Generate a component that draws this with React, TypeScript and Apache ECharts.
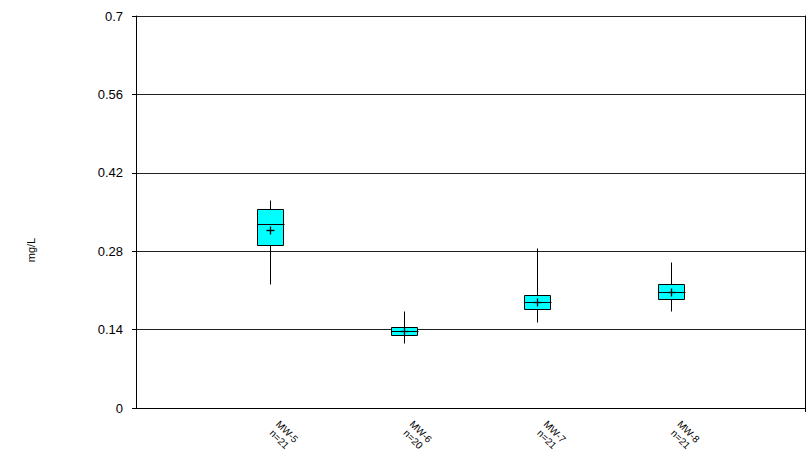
import React, { useEffect, useRef } from "react";
import * as echarts from "echarts";

const categories = ["MW-5", "MW-6", "MW-7", "MW-8"];
const counts = [21, 20, 21, 21];
const whiskerLow = [0.221, 0.116, 0.154, 0.173];
const q1 = [0.291, 0.13, 0.176, 0.194];
const median = [0.329, 0.1375, 0.189, 0.208];
const q3 = [0.355, 0.1446, 0.201, 0.221];
const whiskerHigh = [0.371, 0.173, 0.286, 0.261];
const means = [0.318, 0.138, 0.19, 0.208];
const yTicks = [0, 0.14, 0.28, 0.42, 0.56, 0.7];

const FONT = "Liberation Sans";

export default function App() {
  const ref = useRef<HTMLDivElement>(null);
  useEffect(() => {
    if (!ref.current) return;
    const chart = echarts.init(ref.current, null, { renderer: "svg" });
    const xLabels = ["", ...categories.map((c, i) => `${c}\nn=${counts[i]}`), ""];
    const data = categories.map((c, i) => [
      i + 1,
      whiskerLow[i],
      q1[i],
      median[i],
      q3[i],
      whiskerHigh[i],
      means[i],
    ]);
    const px = (v: number) => Math.round(v) + 0.5;
    const option: any = {
      animation: false,
      backgroundColor: "#fff",
      grid: {
        left: 136,
        right: 4,
        top: 16,
        bottom: 60,
        containLabel: false,
        outerBoundsMode: "none",
      },
      xAxis: {
        type: "category",
        data: xLabels,
        boundaryGap: false,
        axisLine: { show: true, lineStyle: { color: "#000", width: 1 } },
        axisTick: {
          show: true,
          length: 4,
          interval: (idx: number) => idx === xLabels.length - 1,
          lineStyle: { color: "#000" },
        },
        axisLabel: {
          interval: (idx: number, val: string) => val !== "",
          rotate: -45,
          align: "center",
          verticalAlign: "middle",
          padding: [0, 0, 0, 38],
          margin: 14,
          fontFamily: FONT,
          fontSize: 10,
          lineHeight: 11,
          color: "#000",
        },
        splitLine: { show: false },
      },
      yAxis: [
        {
          type: "value",
          min: 0,
          max: 0.7,
          interval: 0.14,
          name: "mg/L",
          nameLocation: "middle",
          nameRotate: 90,
          nameGap: 100,
          nameTextStyle: {
            fontFamily: FONT,
            fontSize: 11,
            color: "#000",
            padding: [0, 76, 0, 0],
          },
          axisLine: { show: true, lineStyle: { color: "#000", width: 1 } },
          axisTick: { show: true, length: 4, inside: false, lineStyle: { color: "#000" } },
          axisLabel: {
            margin: 13,
            fontFamily: FONT,
            fontSize: 13,
            color: "#000",
            formatter: (v: number) => {
              const t = yTicks.find((y) => Math.abs(y - v) < 1e-6);
              return String(t !== undefined ? t : v);
            },
          },
          splitLine: { show: true, lineStyle: { color: "#222", width: 1 } },
        },
        {
          type: "value",
          position: "right",
          min: 0,
          max: 0.7,
          interval: 0.14,
          axisLine: { show: true, lineStyle: { color: "#000", width: 1 } },
          axisTick: { show: false },
          axisLabel: { show: false },
          splitLine: { show: false },
        },
      ],
      series: [
        {
          type: "custom",
          xAxisIndex: 0,
          yAxisIndex: 0,
          encode: { x: 0, y: [1, 2, 3, 4, 5, 6] },
          data,
          renderItem: (params: any, api: any) => {
            const x = api.value(0);
            const band = api.size([1, 0])[0];
            const w = Math.round(band * 0.195);
            const cx = api.coord([x, 0])[0];
            const yLow = api.coord([x, api.value(1)])[1];
            const yQ1 = api.coord([x, api.value(2)])[1];
            const yMed = api.coord([x, api.value(3)])[1];
            const yQ3 = api.coord([x, api.value(4)])[1];
            const yHigh = api.coord([x, api.value(5)])[1];
            const yMean = api.coord([x, api.value(6)])[1];
            const xc = px(cx);
            const left = Math.round(cx - w / 2) + 0.5;
            const right = left + w;
            const stroke = { stroke: "#000", lineWidth: 1, fill: null };
            return {
              type: "group",
              children: [
                {
                  type: "line",
                  shape: { x1: xc, y1: px(yHigh), x2: xc, y2: px(yLow) },
                  style: stroke,
                },
                {
                  type: "rect",
                  shape: {
                    x: left,
                    y: px(yQ3),
                    width: w,
                    height: px(yQ1) - px(yQ3),
                  },
                  style: { fill: "#00FFFF", stroke: "#000", lineWidth: 1 },
                },
                {
                  type: "line",
                  shape: { x1: left, y1: px(yMed), x2: right + 1, y2: px(yMed) },
                  style: stroke,
                },
                {
                  type: "line",
                  shape: { x1: xc - 4, y1: px(yMean), x2: xc + 4, y2: px(yMean) },
                  style: { stroke: "#000", lineWidth: 1.3 },
                },
                {
                  type: "line",
                  shape: { x1: xc, y1: px(yMean) - 4, x2: xc, y2: px(yMean) + 4 },
                  style: { stroke: "#000", lineWidth: 1.3 },
                },
              ],
            };
          },
        },
      ],
    };
    chart.setOption(option);
    return () => chart.dispose();
  }, []);
  return (
    <div
      ref={ref}
      style={{ position: "absolute", left: 0, top: 0, width: 809, height: 468 }}
    />
  );
}
